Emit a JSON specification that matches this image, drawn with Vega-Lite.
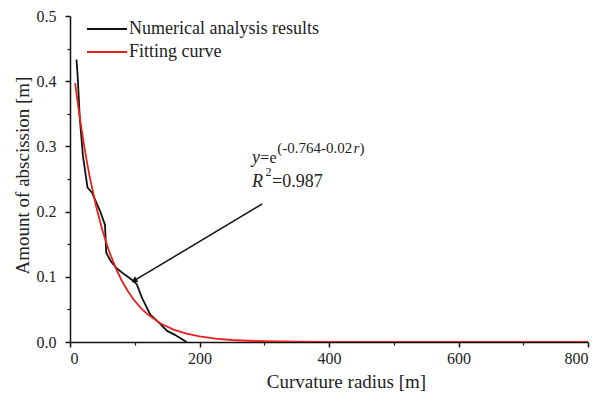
{
  "$schema": "https://vega.github.io/schema/vega-lite/v6.json",
  "width": 518,
  "height": 326,
  "autosize": "none",
  "padding": {"left": 70, "top": 16, "right": 12, "bottom": 56},
  "background": "white",
  "config": {
    "view": {"stroke": null},
    "font": "Liberation Serif",
    "text": {"font": "Liberation Serif"},
    "legend": {"labelFont": "Liberation Serif"},
    "axis": {"labelFont": "Liberation Serif", "titleFont": "Liberation Serif", "labelColor": "#222", "titleColor": "#222", "grid": false, "domainColor": "#111", "tickColor": "#111"}
  },
  "datasets": {
    "numerical": [
      {"r": 10, "v": 0.433}, {"r": 12, "v": 0.405}, {"r": 15, "v": 0.345}, {"r": 20, "v": 0.285},
      {"r": 27, "v": 0.237}, {"r": 34, "v": 0.229}, {"r": 46, "v": 0.202}, {"r": 54, "v": 0.18},
      {"r": 56, "v": 0.137}, {"r": 63, "v": 0.124}, {"r": 72, "v": 0.113}, {"r": 85, "v": 0.103},
      {"r": 96, "v": 0.095}, {"r": 103, "v": 0.089}, {"r": 111, "v": 0.068}, {"r": 124, "v": 0.042},
      {"r": 137, "v": 0.03}, {"r": 150, "v": 0.017}, {"r": 162, "v": 0.011}, {"r": 180, "v": 0.0}
    ],
    "fitting": [
      {"r": 8, "v": 0.3969}, {"r": 10, "v": 0.3814}, {"r": 15, "v": 0.3451}, {"r": 20, "v": 0.3122},
      {"r": 25, "v": 0.2825}, {"r": 30, "v": 0.2556}, {"r": 40, "v": 0.2093}, {"r": 50, "v": 0.1713},
      {"r": 60, "v": 0.1403}, {"r": 70, "v": 0.1149}, {"r": 80, "v": 0.094}, {"r": 90, "v": 0.077},
      {"r": 100, "v": 0.063}, {"r": 110, "v": 0.0516}, {"r": 120, "v": 0.0423}, {"r": 140, "v": 0.0283},
      {"r": 160, "v": 0.019}, {"r": 180, "v": 0.0127}, {"r": 200, "v": 0.0085}, {"r": 225, "v": 0.0052},
      {"r": 250, "v": 0.0031}, {"r": 275, "v": 0.0019}, {"r": 300, "v": 0.0012}, {"r": 350, "v": 0.0004},
      {"r": 400, "v": 0.0002}, {"r": 500, "v": 0.0}, {"r": 600, "v": 0.0}, {"r": 800, "v": 0.0}
    ],
    "anchor": [{}]
  },
  "resolve": {"axis": {"x": "independent", "y": "independent"}},
  "layer": [
    {
      "data": {"name": "numerical"},
      "transform": [{"calculate": "'Numerical analysis results'", "as": "series"}],
      "mark": {"type": "line", "strokeWidth": 1.8, "clip": true},
      "encoding": {
        "x": {"field": "r", "type": "quantitative", "scale": {"domain": [0, 800], "nice": false},
          "axis": {"orient": "bottom", "values": [0, 200, 400, 600, 800], "labelFont": "Liberation Serif", "labelFontSize": 16, "labelPadding": 3, "tickSize": 5, "tickWidth": 1.5, "domainWidth": 1.5,
            "title": "Curvature radius [m]", "titleFont": "Liberation Serif", "titleFontSize": 19, "titleFontWeight": "normal", "titleX": 276, "titleY": 45, "titleBaseline": "alphabetic", "titleAlign": "center"}},
        "y": {"field": "v", "type": "quantitative", "scale": {"domain": [0, 0.5], "nice": false},
          "axis": {"orient": "left", "values": [0, 0.1, 0.2, 0.3, 0.4, 0.5], "format": ".1f", "labelFont": "Liberation Serif", "labelFontSize": 16, "labelPadding": 9, "tickSize": 5, "tickWidth": 1.5, "domainWidth": 1.5,
            "title": "Amount of abscission [m]", "titleFont": "Liberation Serif", "titleFontSize": 19, "titleFontWeight": "normal", "titleX": -48, "titleY": 159, "titleBaseline": "middle", "titleAlign": "center", "titleAngle": -90}},
        "color": {"field": "series", "type": "nominal",
          "scale": {"domain": ["Numerical analysis results", "Fitting curve"], "range": ["#111111", "#e8211f"]},
          "legend": {"orient": "none", "legendX": 43, "legendY": 4, "title": null, "symbolType": "M-7,0H1", "symbolSize": 100, "symbolStrokeWidth": 2, "labelFontSize": 18, "labelFont": "Liberation Serif", "labelColor": "#222", "labelOffset": -2, "rowPadding": 5, "padding": 0, "labelLimit": 400}}
      }
    },
    {
      "data": {"name": "fitting"},
      "transform": [{"calculate": "'Fitting curve'", "as": "series"}],
      "mark": {"type": "line", "strokeWidth": 1.8, "clip": true},
      "encoding": {
        "x": {"field": "r", "type": "quantitative", "axis": {"orient": "bottom", "values": [100, 300, 500, 700], "labels": false, "domain": false, "tickSize": 3, "tickWidth": 1.2, "title": null}},
        "y": {"field": "v", "type": "quantitative", "axis": {"orient": "left", "values": [0.05, 0.15, 0.25, 0.35, 0.45], "labels": false, "domain": false, "tickSize": 3, "tickWidth": 1.2, "title": null}},
        "color": {"field": "series", "type": "nominal"}
      }
    },
    {
      "data": {"name": "anchor"},
      "mark": {"type": "rule", "color": "#111", "strokeWidth": 1.5},
      "encoding": {
        "x": {"datum": 297, "type": "quantitative", "axis": null},
        "y": {"datum": 0.2117, "type": "quantitative", "axis": null},
        "x2": {"datum": 99},
        "y2": {"datum": 0.094}
      }
    },
    {
      "data": {"name": "anchor"},
      "mark": {"type": "point", "shape": "triangle-up", "filled": true, "color": "#111", "size": 45, "angle": 239, "opacity": 1},
      "encoding": {
        "x": {"datum": 99, "type": "quantitative", "axis": null},
        "y": {"datum": 0.094, "type": "quantitative", "axis": null}
      }
    },
    {
      "data": {"name": "anchor"},
      "mark": {"type": "text", "text": "y", "font": "Liberation Serif", "fontStyle": "italic", "fontSize": 18, "align": "left", "baseline": "alphabetic", "color": "#222"},
      "encoding": {"x": {"datum": 281, "type": "quantitative", "axis": null}, "y": {"datum": 0.2745, "type": "quantitative", "axis": null}}
    },
    {
      "data": {"name": "anchor"},
      "mark": {"type": "text", "text": "=e", "font": "Liberation Serif", "fontSize": 16, "align": "left", "baseline": "alphabetic", "color": "#222"},
      "encoding": {"x": {"datum": 294, "type": "quantitative", "axis": null}, "y": {"datum": 0.2745, "type": "quantitative", "axis": null}}
    },
    {
      "data": {"name": "anchor"},
      "mark": {"type": "text", "text": "(-0.764-0.02", "font": "Liberation Serif", "fontSize": 15, "align": "left", "baseline": "alphabetic", "color": "#222"},
      "encoding": {"x": {"datum": 320, "type": "quantitative", "axis": null}, "y": {"datum": 0.2899, "type": "quantitative", "axis": null}}
    },
    {
      "data": {"name": "anchor"},
      "mark": {"type": "text", "text": "r", "font": "Liberation Serif", "fontStyle": "italic", "fontSize": 15, "align": "left", "baseline": "alphabetic", "color": "#222"},
      "encoding": {"x": {"datum": 438, "type": "quantitative", "axis": null}, "y": {"datum": 0.2899, "type": "quantitative", "axis": null}}
    },
    {
      "data": {"name": "anchor"},
      "mark": {"type": "text", "text": ")", "font": "Liberation Serif", "fontSize": 15, "align": "left", "baseline": "alphabetic", "color": "#222"},
      "encoding": {"x": {"datum": 447, "type": "quantitative", "axis": null}, "y": {"datum": 0.2899, "type": "quantitative", "axis": null}}
    },
    {
      "data": {"name": "anchor"},
      "mark": {"type": "text", "text": "R", "font": "Liberation Serif", "fontStyle": "italic", "fontSize": 18, "align": "left", "baseline": "alphabetic", "color": "#222"},
      "encoding": {"x": {"datum": 281, "type": "quantitative", "axis": null}, "y": {"datum": 0.2382, "type": "quantitative", "axis": null}}
    },
    {
      "data": {"name": "anchor"},
      "mark": {"type": "text", "text": "2", "font": "Liberation Serif", "fontSize": 12, "align": "left", "baseline": "alphabetic", "color": "#222"},
      "encoding": {"x": {"datum": 302, "type": "quantitative", "axis": null}, "y": {"datum": 0.2546, "type": "quantitative", "axis": null}}
    },
    {
      "data": {"name": "anchor"},
      "mark": {"type": "text", "text": "=0.987", "font": "Liberation Serif", "fontSize": 18, "align": "left", "baseline": "alphabetic", "color": "#222"},
      "encoding": {"x": {"datum": 312, "type": "quantitative", "axis": null}, "y": {"datum": 0.2382, "type": "quantitative", "axis": null}}
    }
  ]
}
